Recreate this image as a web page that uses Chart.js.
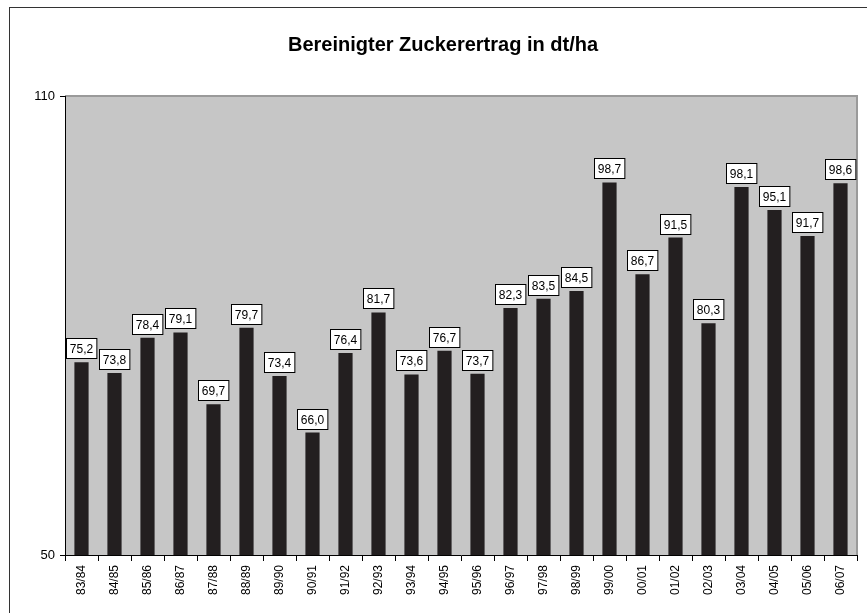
<!DOCTYPE html>
<html>
<head>
<meta charset="utf-8">
<script src="https://cdn.jsdelivr.net/npm/chart.js@4/dist/chart.umd.min.js"></script>
<style>
  html, body { margin: 0; padding: 0; background: #fff; overflow: hidden; }
  #wrap { position: relative; width: 867px; height: 613px; }
  #frame { position: absolute; left: 9px; top: 7px; width: 900px; height: 700px; border: 1.5px solid #333; box-sizing: border-box; }
  canvas { position: absolute; left: 0; top: 0; }
</style>
</head>
<body>
<div id="wrap">
  <div id="frame"></div>
  <canvas id="chart" width="867" height="613"></canvas>
</div>
<script>
const seasons = ["83/84","84/85","85/86","86/87","87/88","88/89","89/90","90/91","91/92","92/93","93/94","94/95",
                 "95/96","96/97","97/98","98/99","99/00","00/01","01/02","02/03","03/04","04/05","05/06","06/07"]
const ertrag = [75.2, 73.8, 78.4, 79.1, 69.7, 79.7, 73.4, 66.0, 76.4, 81.7, 73.6, 76.7,
                73.7, 82.3, 83.5, 84.5, 98.7, 86.7, 91.5, 80.3, 98.1, 95.1, 91.7, 98.6]
const y_min = 50
const y_max = 110
const title_text = "Bereinigter Zuckerertrag in dt/ha"

const FONT = "'Liberation Sans', Arial, sans-serif"

// grey plot background with a thin grey frame
const plotBg = {
    id: 'plotBg',
    beforeDraw(chart) {
        const {ctx, chartArea: a} = chart
        ctx.save()
        ctx.fillStyle = '#c6c6c6'
        ctx.fillRect(a.left, a.top, a.right - a.left, a.bottom - a.top)
        ctx.strokeStyle = '#9a9a9a'
        ctx.lineWidth = 2
        ctx.beginPath()
        ctx.moveTo(a.left, a.top)
        ctx.lineTo(a.right, a.top)
        ctx.lineTo(a.right, a.bottom)
        ctx.stroke()
        ctx.restore()
    }
}

// value boxes above each bar + title
const valueBoxes = {
    id: 'valueBoxes',
    afterDatasetsDraw(chart) {
        const ctx = chart.ctx
        const meta = chart.getDatasetMeta(0)
        ctx.save()
        ctx.font = '12px ' + FONT
        ctx.textAlign = 'center'
        ctx.textBaseline = 'middle'
        meta.data.forEach((bar, i) => {
            const txt = ertrag[i].toFixed(1).replace('.', ',')
            const w = ctx.measureText(txt).width + 7
            const h = 20
            const x = Math.round(bar.x - w / 2) + 0.5
            const y = Math.round(bar.y - 4 - h) + 0.5
            ctx.fillStyle = '#fff'
            ctx.fillRect(x, y, w, h)
            ctx.strokeStyle = '#000'
            ctx.lineWidth = 1
            ctx.strokeRect(x, y, w, h)
            ctx.fillStyle = '#000'
            ctx.fillText(txt, bar.x, y + h / 2 + 1)
        })
        ctx.font = 'bold 20px ' + FONT
        ctx.fillText(title_text, 443, 45)
        ctx.restore()
    }
}

const data = {
    labels: seasons,
    datasets: [
        {
            label: 'Zuckerertrag',
            data: ertrag,
            backgroundColor: '#231f20',
            borderWidth: 0,
            barPercentage: 0.43,
            categoryPercentage: 1.0,
        }
    ]
}

const config = {
    type: 'bar',
    data: data,
    options: {
        responsive: false,
        animation: false,
        layout: {
            padding: {left: 9, top: 96, right: 10, bottom: 0}
        },
        plugins: {
            legend: {display: false},
            title: {display: false},
            tooltip: {enabled: false}
        },
        scales: {
            x: {
                grid: {offset: true, drawOnChartArea: false, tickLength: 6, color: '#000'},
                border: {color: '#000', width: 1},
                ticks: {
                    color: '#000',
                    font: {family: FONT, size: 12},
                    minRotation: 90,
                    maxRotation: 90,
                    padding: 4,
                    autoSkip: false
                },
                afterFit: function (scale) { scale.height = 58 }
            },
            y: {
                min: y_min,
                max: y_max,
                grid: {drawOnChartArea: false, tickLength: 5, color: '#000'},
                border: {color: '#000', width: 1},
                ticks: {
                    stepSize: 60,
                    color: '#000',
                    font: {family: FONT, size: 13},
                    padding: 5
                },
                afterFit: function (scale) { scale.width = 56 }
            }
        }
    },
    plugins: [plotBg, valueBoxes]
}

new Chart(document.getElementById('chart').getContext('2d'), config)
</script>
</body>
</html>
